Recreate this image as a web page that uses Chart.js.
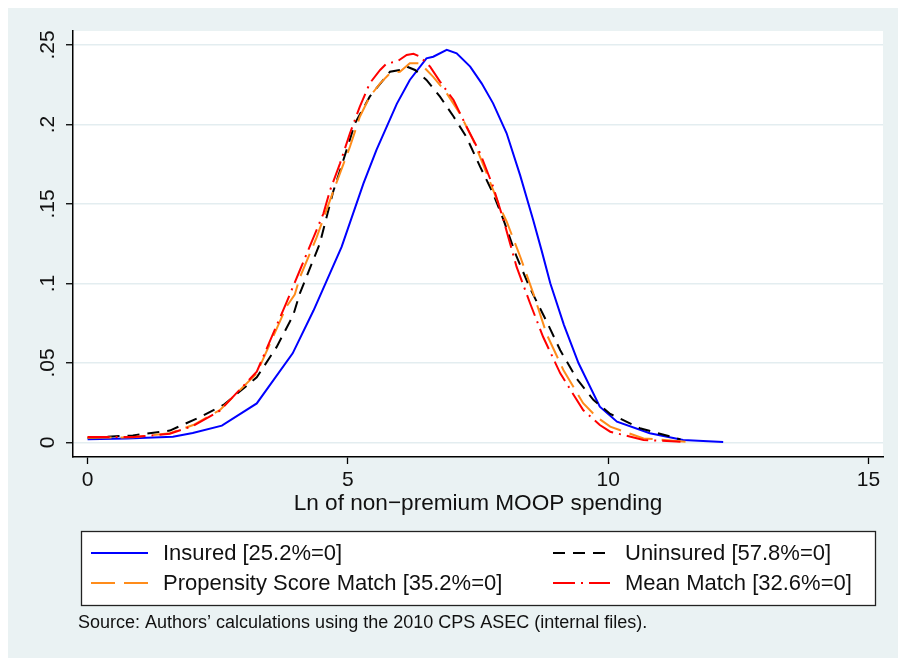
<!DOCTYPE html>
<html>
<head>
<meta charset="utf-8">
<title>Ln of non-premium MOOP spending</title>
<script src="https://cdn.jsdelivr.net/npm/chart.js@4.4.1/dist/chart.umd.min.js"></script>
<style>
  html, body { margin: 0; padding: 0; background: #fff; }
</style>
</head>
<body>
<canvas id="moopChart" width="898" height="658"></canvas>
<script>
// kernel density estimates
const insuredX = [0, 0.75, 1.64, 2.02, 2.58, 3.25, 3.94, 4.34, 4.88, 5.30, 5.55, 5.94, 6.19, 6.51, 6.64, 6.90, 7.09, 7.35, 7.57, 7.79, 8.05, 8.31, 8.56, 8.72, 8.89, 9.15, 9.43, 9.84, 10.17, 10.80, 11.44, 12.21];
const insuredY = [0.002, 0.0026, 0.0037, 0.006, 0.0106, 0.0246, 0.0561, 0.083, 0.123, 0.163, 0.184, 0.213, 0.228, 0.2416, 0.2426, 0.2469, 0.2448, 0.2364, 0.2259, 0.2133, 0.1945, 0.168, 0.140, 0.121, 0.100, 0.074, 0.050, 0.0225, 0.0131, 0.0058, 0.0016, 0.0003];

const uninsuredX = [0, 0.87, 1.58, 2.16, 2.61, 3.25, 3.63, 3.95, 4.08, 4.46, 4.72, 4.85, 5.14, 5.42, 5.81, 6.00, 6.13, 6.29, 6.51, 6.77, 7.03, 7.28, 7.54, 7.79, 7.99, 8.24, 8.50, 8.82, 9.08, 9.40, 9.72, 10.04, 10.61, 11.39];
const uninsuredY = [0.003, 0.0045, 0.0075, 0.016, 0.0236, 0.041, 0.060, 0.080, 0.094, 0.125, 0.158, 0.171, 0.201, 0.2175, 0.2332, 0.2343, 0.2364, 0.2343, 0.228, 0.2175, 0.205, 0.192, 0.1735, 0.1567, 0.140, 0.117, 0.097, 0.076, 0.058, 0.040, 0.0267, 0.018, 0.009, 0.002];

const psmX = [0, 0.88, 1.58, 2.03, 2.54, 3.25, 3.82, 3.98, 4.08, 4.40, 4.72, 5.04, 5.23, 5.42, 5.62, 5.81, 6.00, 6.19, 6.39, 6.64, 6.90, 7.15, 7.41, 7.67, 7.92, 8.05, 8.31, 8.56, 8.82, 9.14, 9.52, 9.78, 10.04, 10.68, 11.51];
const psmY = [0.003, 0.0033, 0.0058, 0.011, 0.0204, 0.0435, 0.0854, 0.093, 0.104, 0.129, 0.158, 0.186, 0.2049, 0.2175, 0.2259, 0.2322, 0.2332, 0.2385, 0.2385, 0.230, 0.2196, 0.207, 0.190, 0.169, 0.148, 0.139, 0.117, 0.094, 0.068, 0.0456, 0.0247, 0.016, 0.010, 0.0026, 0.0005];

const meanX = [0, 0.88, 1.58, 2.03, 2.54, 3.25, 3.82, 4.08, 4.53, 4.66, 4.85, 5.04, 5.23, 5.42, 5.62, 5.75, 5.94, 6.13, 6.26, 6.39, 6.58, 6.77, 7.03, 7.28, 7.54, 7.79, 7.99, 8.24, 8.50, 8.75, 9.08, 9.52, 9.84, 10.04, 10.68, 11.39];
const meanY = [0.0035, 0.0035, 0.0055, 0.0105, 0.020, 0.0445, 0.088, 0.1085, 0.144, 0.1588, 0.1756, 0.1945, 0.2112, 0.2259, 0.2343, 0.2385, 0.2395, 0.2437, 0.2445, 0.2426, 0.2364, 0.227, 0.2154, 0.1986, 0.182, 0.161, 0.140, 0.1106, 0.0876, 0.0665, 0.0435, 0.0204, 0.011, 0.0068, 0.0016, 0.0005];

const seriesLabels = ['Insured [25.2%=0]', 'Uninsured [57.8%=0]', 'Propensity Score Match [35.2%=0]', 'Mean Match [32.6%=0]'];
const xTicks = [0, 5, 10, 15];
const yTicks = [0, 0.05, 0.1, 0.15, 0.2, 0.25];
const xTitle = 'Ln of non\u2212premium MOOP spending';
const sourceNote = 'Source: Authors\u2019 calculations using the 2010 CPS ASEC (internal files).';

const FONT = '"Liberation Sans", Arial, Helvetica, sans-serif';

function toPoints(xs, ys) {
  return xs.map((x, i) => ({ x: x, y: ys[i] }));
}

const backgroundPlugin = {
  id: 'stataBackground',
  beforeDraw(chart) {
    const { ctx, chartArea } = chart;
    ctx.save();
    ctx.fillStyle = '#ffffff';
    ctx.fillRect(0, 0, chart.width, chart.height);
    ctx.fillStyle = '#eaf2f3';
    ctx.fillRect(8, 8, chart.width - 8, chart.height - 8);
    ctx.fillStyle = '#ffffff';
    ctx.fillRect(chartArea.left, chartArea.top, chartArea.right - chartArea.left, chartArea.bottom - chartArea.top);
    ctx.restore();
  }
};

const legendPlugin = {
  id: 'stataLegend',
  afterDraw(chart) {
    const ctx = chart.ctx;
    ctx.save();
    ctx.fillStyle = '#ffffff';
    ctx.fillRect(81, 531, 794, 74);
    ctx.strokeStyle = '#222';
    ctx.lineWidth = 1.3;
    ctx.strokeRect(81.5, 531.5, 794, 74);

    const cols = [91, 553];
    const rows = [553, 583];
    chart.data.datasets.forEach((ds, i) => {
      const x = cols[i % 2];
      const y = rows[Math.floor(i / 2)];
      ctx.strokeStyle = ds.borderColor;
      ctx.lineWidth = ds.borderWidth;
      ctx.setLineDash(ds.borderDash || []);
      ctx.beginPath();
      ctx.moveTo(x, y);
      ctx.lineTo(x + 57, y);
      ctx.stroke();
      ctx.setLineDash([]);
      ctx.fillStyle = '#111';
      ctx.font = '22px ' + FONT;
      ctx.textBaseline = 'middle';
      ctx.textAlign = 'left';
      ctx.fillText(ds.label, x + 72, y + 1);
    });

    ctx.font = '18px ' + FONT;
    ctx.fillStyle = '#111';
    ctx.textBaseline = 'middle';
    ctx.fillText(sourceNote, 78, 623);
    ctx.restore();
  }
};

new Chart(document.getElementById('moopChart'), {
  type: 'line',
  data: {
    datasets: [
      { label: seriesLabels[0], data: toPoints(insuredX, insuredY), borderColor: '#0000ff', borderWidth: 2, order: 4 },
      { label: seriesLabels[1], data: toPoints(uninsuredX, uninsuredY), borderColor: '#000000', borderWidth: 2, borderDash: [12, 8], order: 3 },
      { label: seriesLabels[2], data: toPoints(psmX, psmY), borderColor: '#ff8c1a', borderWidth: 2, borderDash: [24, 9], order: 2 },
      { label: seriesLabels[3], data: toPoints(meanX, meanY), borderColor: '#ff0000', borderWidth: 2, borderDash: [22, 6, 2, 6], order: 1 }
    ]
  },
  options: {
    responsive: false,
    animation: false,
    parsing: false,
    layout: { padding: { left: 0, right: 15, top: 31, bottom: 141 } },
    elements: {
      point: { radius: 0 },
      line: { tension: 0, fill: false }
    },
    plugins: {
      legend: { display: false },
      tooltip: { enabled: false }
    },
    scales: {
      x: {
        type: 'linear',
        min: -0.28,
        max: 15.28,
        afterBuildTicks: s => { s.ticks = xTicks.map(v => ({ value: v })); },
        afterFit: s => { s.height = 60; },
        ticks: {
          color: '#111',
          font: { family: FONT, size: 21 },
          padding: 4,
          maxRotation: 0,
          callback: v => String(v)
        },
        grid: { drawOnChartArea: false, tickLength: 7, tickColor: '#000', tickWidth: 1.3 },
        border: { color: '#000', width: 1.5 },
        title: {
          display: true,
          text: xTitle,
          color: '#111',
          font: { family: FONT, size: 22.6 },
          padding: { top: 0, bottom: 0 }
        }
      },
      y: {
        type: 'linear',
        min: -0.0091,
        max: 0.2588,
        afterBuildTicks: s => { s.ticks = yTicks.map(v => ({ value: v })); },
        afterFit: s => { s.width = 73; },
        ticks: {
          color: '#111',
          font: { family: FONT, size: 21 },
          padding: 3,
          minRotation: 90,
          maxRotation: 90,
          crossAlign: 'center',
          callback: v => (v === 0 ? '0' : String(+v.toFixed(2)).replace(/^0/, ''))
        },
        grid: { color: '#e3edf0', lineWidth: 1.5, tickLength: 7, tickColor: '#000', tickWidth: 1.3 },
        border: { color: '#000', width: 1.5 }
      }
    }
  },
  plugins: [backgroundPlugin, legendPlugin]
});
</script>
</body>
</html>
